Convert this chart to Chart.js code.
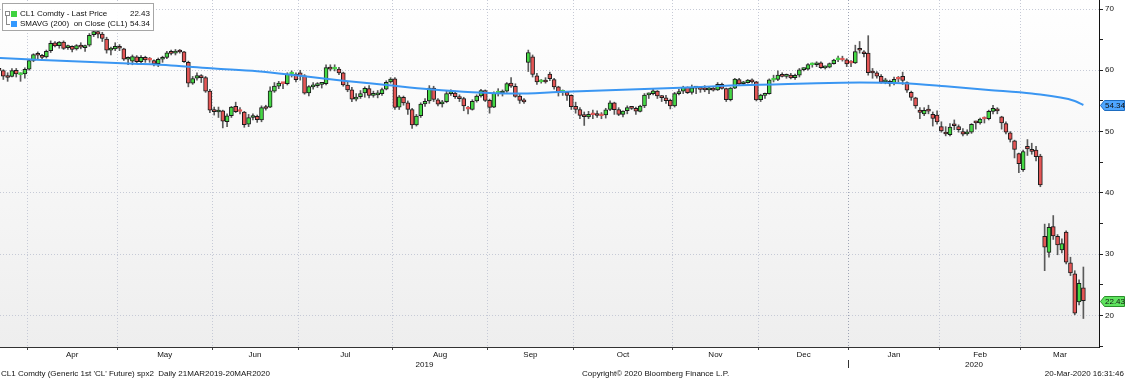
<!DOCTYPE html>
<html>
<head>
<meta charset="utf-8">
<script src="https://cdn.jsdelivr.net/npm/chart.js@4.4.1/dist/chart.umd.min.js"></script>
<style>
  html, body { margin: 0; padding: 0; background: #fff; }
  #wrap { position: relative; width: 1125px; height: 379px; overflow: hidden;
          font-family: "Liberation Sans", Arial, sans-serif; font-size: 8px; color: #111; }
  #wrap canvas { position: absolute; left: 0; top: 0; }
  .abs { position: absolute; white-space: nowrap; line-height: 10px; }
  .legend { position: absolute; left: 2px; top: 3px; width: 152px; height: 28px; box-sizing: border-box;
            border: 1px solid #a6a6a6; background: rgba(255,255,255,0.93); }
  .sw { position: absolute; width: 6px; height: 6px; }
</style>
</head>
<body>
<div id="wrap">
  <canvas id="chart" width="1125" height="379"></canvas>

  <div class="legend"></div>
  <div class="abs" style="left:5px;top:11px;width:3px;height:3px;border:1px solid #8a8a8a;"></div>
  <div class="abs" style="left:6px;top:16px;width:3px;height:8px;border-left:1px solid #8a8a8a;border-bottom:1px solid #8a8a8a;"></div>
  <div class="sw" style="left:11px;top:11px;background:#3fd23f;"></div>
  <div class="sw" style="left:11px;top:21px;background:#3399ff;"></div>
  <div class="abs" style="left:20px;top:9px;">CL1 Comdty - Last Price</div>
  <div class="abs" style="left:20px;top:19px;">SMAVG (200)&nbsp; on Close (CL1)</div>
  <div class="abs" id="lastVal" style="left:110px;top:9px;width:40px;text-align:right;"></div>
  <div class="abs" id="smaVal" style="left:110px;top:19px;width:40px;text-align:right;"></div>

  <div class="abs" style="left:1px;top:369px;">CL1 Comdty (Generic 1st 'CL' Future) spx2&nbsp; Daily 21MAR2019-20MAR2020</div>
  <div class="abs" style="left:582px;top:369px;">Copyright© 2020 Bloomberg Finance L.P.</div>
  <div class="abs" style="right:1px;top:369px;">20-Mar-2020 16:31:46</div>
</div>

<script>
// daily candles, 21 Mar 2019 .. 20 Mar 2020 (one entry per trading day)
const openP = [
  60.2, 59.95, 59.0, 59.0, 60.0, 59.3, 59.4,
  60.2, 61.6, 62.6, 62.4, 62.2, 63.2, 64.5, 64.0, 64.6, 63.7, 63.9, 63.5, 64.1, 63.7, 64.1, 65.8, 66.3, 65.9, 65.1, 63.3, 63.5,
  63.9, 63.5, 61.8, 61.5, 62.2, 61.4, 62.1, 61.7, 61.6, 61.1, 61.8, 62.1, 62.9, 62.8, 63.1, 63.0, 61.3, 57.9, 58.7, 59.1, 58.8, 56.6,
  53.4, 53.2, 53.4, 51.6, 52.6, 54.1, 53.3, 53.2, 51.2, 52.3, 52.5, 51.9, 53.9, 54.0, 56.6, 57.4, 57.9, 57.8, 59.4, 59.4,
  59.6, 59.1, 56.3, 57.3, 57.5, 57.7, 57.8, 60.4, 60.2, 60.2, 59.6, 57.6, 56.8, 55.3, 55.7, 56.3, 57.0, 55.9, 56.0, 56.2, 56.9, 58.1,
  58.6, 54.0, 55.6, 54.7, 53.6, 51.1, 52.6, 54.5, 55.0, 57.1, 55.2, 54.5, 54.9, 56.2, 56.3, 55.7, 55.4, 53.7, 53.6, 55.0, 55.8, 56.7,
  55.1, 54.0, 56.3, 56.3, 56.6, 57.9, 57.4, 55.8, 55.1, 61.3, 62.2, 59.1, 58.1, 58.2, 59.4, 58.5, 57.3, 56.4, 56.4, 55.9,
  54.1, 53.6, 52.6, 52.4, 52.8, 52.8, 52.6, 52.7, 53.6, 54.7, 53.6, 52.8, 53.4, 53.9, 53.8, 53.3, 54.2, 56.0, 56.2, 56.6, 55.8, 55.5, 55.1,
  54.2, 56.2, 56.6, 57.2, 56.4, 57.1, 57.2, 56.9, 56.8, 57.1, 56.8, 57.7, 57.0, 55.2, 57.1, 58.5, 57.8, 58.0, 58.4, 58.1,
  55.2, 55.9, 56.2, 58.4, 58.5, 59.2, 59.0, 59.2, 58.8, 59.2, 60.1, 60.2, 60.9, 60.9, 61.2, 60.4, 60.5, 61.1, 61.7, 61.7, 61.7,
  61.2, 61.2, 63.6, 62.9, 62.8, 59.8, 59.6, 59.0, 58.1, 58.2, 57.9, 58.6, 59.0, 58.0, 56.4, 55.5, 53.5, 52.9, 53.6, 52.8, 52.7,
  50.8, 49.8, 49.5, 51.1, 50.8, 50.0, 49.6, 49.9, 51.55, 51.4, 52.1, 52.1, 53.3, 53.7, 52.4, 51.3, 49.8, 48.5, 46.4,
  43.8, 47.6, 47.0, 47.0, 46.0, 32.9, 30.3, 34.5, 32.9, 30.7, 33.6, 28.6, 26.8, 22.2, 24.5
];
const highP = [
  60.4, 60.1, 59.6, 60.3, 60.3, 59.6, 60.4,
  61.7, 62.7, 63.0, 62.6, 63.3, 64.8, 64.7, 64.7, 64.8, 64.1, 64.0, 64.2, 64.5, 64.1, 66.0, 66.6, 66.5, 66.2, 65.4, 63.8, 64.5,
  64.2, 63.6, 62.2, 62.5, 62.4, 62.4, 62.3, 62.1, 61.7, 62.0, 62.3, 63.1, 63.3, 63.4, 63.4, 63.1, 61.5, 59.0, 59.6, 59.3, 59.0, 56.9,
  54.0, 54.0, 53.5, 52.9, 54.1, 54.8, 53.9, 53.3, 52.8, 52.9, 52.7, 54.2, 54.3, 57.3, 58.0, 58.2, 58.0, 59.6, 59.9, 59.6,
  60.0, 59.3, 57.5, 58.0, 58.0, 58.0, 60.9, 60.9, 60.9, 60.5, 59.7, 58.1, 57.2, 56.2, 56.7, 57.3, 57.5, 56.6, 56.7, 57.1, 58.3, 58.8,
  58.8, 55.9, 55.8, 55.0, 53.8, 52.8, 54.7, 55.4, 57.5, 57.4, 55.4, 55.1, 56.6, 56.8, 56.6, 56.0, 55.6, 54.1, 55.2, 56.0, 56.9, 56.8,
  55.3, 56.5, 57.0, 56.8, 58.0, 58.8, 57.8, 56.2, 55.4, 63.3, 62.5, 59.5, 58.5, 58.8, 59.7, 58.7, 57.4, 56.8, 56.5, 56.0,
  54.8, 53.9, 53.2, 53.3, 53.5, 53.4, 53.1, 53.8, 55.0, 54.8, 53.9, 53.4, 54.2, 54.1, 54.0, 54.3, 56.2, 56.3, 56.9, 56.7, 55.9, 55.9, 55.3,
  56.4, 56.9, 57.4, 57.3, 57.6, 57.4, 57.3, 57.5, 57.3, 57.2, 58.0, 57.9, 57.1, 57.2, 58.7, 58.7, 58.2, 58.5, 58.6, 58.2,
  56.1, 56.3, 58.6, 59.2, 59.9, 59.6, 59.4, 59.5, 59.4, 60.3, 60.4, 61.1, 61.2, 61.4, 61.4, 60.7, 61.2, 61.8, 62.3, 62.3, 61.9,
  61.6, 64.1, 64.7, 63.2, 65.65, 60.3, 59.8, 59.3, 58.7, 58.4, 58.9, 59.0, 59.7, 58.1, 56.6, 55.6, 53.9, 53.9, 54.3, 53.2, 53.4,
  51.6, 50.8, 51.3, 51.9, 51.1, 50.5, 50.3, 51.3, 51.7, 52.2, 52.4, 53.5, 54.3, 53.9, 52.5, 51.6, 50.0, 48.6, 46.5,
  47.0, 48.7, 48.1, 47.6, 46.3, 34.9, 35.0, 36.3, 33.2, 32.5, 33.8, 29.5, 27.3, 25.8, 27.9
];
const lowP = [
  59.2, 58.5, 58.2, 58.9, 58.9, 58.2, 58.7,
  60.0, 61.4, 61.8, 61.9, 62.0, 62.9, 63.8, 63.6, 63.4, 63.4, 63.0, 63.3, 63.5, 63.1, 63.9, 65.5, 65.3, 64.7, 62.8, 62.5, 63.2,
  63.2, 61.6, 60.9, 60.9, 61.2, 61.2, 61.3, 61.3, 60.7, 60.6, 61.3, 61.9, 62.5, 62.5, 62.8, 61.3, 57.3, 57.7, 58.4, 58.0, 56.4, 53.1,
  52.7, 52.3, 50.6, 50.8, 52.3, 53.1, 52.9, 50.7, 50.8, 51.9, 51.5, 51.6, 53.5, 53.9, 56.4, 57.0, 57.0, 57.6, 58.9, 58.1,
  58.4, 56.1, 55.8, 56.9, 57.2, 57.1, 57.6, 59.9, 59.9, 59.3, 57.4, 56.5, 54.9, 55.0, 55.4, 55.6, 55.5, 55.6, 55.5, 55.9, 56.8, 57.9,
  53.6, 53.6, 54.3, 52.8, 50.5, 50.9, 52.3, 54.1, 54.6, 54.9, 54.2, 54.0, 54.7, 55.9, 55.4, 54.9, 53.4, 52.9, 53.5, 54.8, 55.6, 54.9,
  53.0, 53.9, 55.8, 55.8, 56.4, 57.2, 55.6, 54.6, 54.6, 59.8, 58.9, 57.7, 57.9, 57.9, 58.3, 56.9, 55.8, 55.9, 55.1, 53.6,
  53.0, 52.1, 51.0, 52.1, 52.1, 52.3, 52.1, 52.2, 53.4, 52.8, 52.6, 52.4, 52.9, 53.6, 52.8, 53.2, 53.9, 55.4, 56.0, 55.4, 54.9, 54.6, 53.7,
  54.0, 56.0, 56.2, 56.2, 56.1, 56.2, 56.4, 56.5, 56.2, 56.6, 56.7, 56.9, 54.9, 55.0, 57.0, 57.6, 57.5, 57.9, 57.9, 55.0,
  54.9, 55.4, 56.1, 58.1, 58.3, 58.9, 58.7, 58.6, 58.5, 58.9, 59.9, 60.0, 60.5, 60.6, 60.3, 60.2, 60.4, 61.0, 61.4, 61.5, 60.6,
  60.6, 61.1, 62.8, 62.2, 59.2, 58.7, 58.7, 57.9, 57.8, 57.4, 57.6, 58.1, 57.7, 56.4, 55.1, 53.8, 52.1, 52.6, 52.9, 50.9, 51.2,
  49.9, 49.3, 49.3, 50.3, 49.9, 49.3, 49.4, 49.7, 50.4, 51.2, 51.4, 51.9, 52.9, 52.9, 50.4, 49.6, 48.3, 45.7, 43.3,
  43.5, 46.1, 46.3, 45.2, 41.0, 27.3, 29.5, 32.4, 29.9, 30.2, 28.4, 26.5, 20.1, 21.7, 19.5
];
const closeP = [
  59.98, 59.04, 58.82, 59.94, 59.41, 59.30, 60.14,
  61.59, 62.58, 62.46, 62.10, 63.08, 64.40, 63.98, 64.61, 63.58, 63.89, 63.40, 64.05, 63.76, 64.00, 65.70, 66.30, 65.89, 65.21, 63.30, 63.50, 63.91,
  63.60, 61.81, 61.94, 62.25, 61.40, 62.12, 61.70, 61.66, 61.04, 61.78, 62.02, 62.87, 62.76, 63.10, 62.99, 61.42, 57.91, 58.63, 59.14, 58.81, 56.59, 53.50,
  53.25, 53.48, 51.68, 52.59, 53.99, 53.26, 53.27, 51.14, 52.28, 52.51, 51.93, 53.90, 53.76, 56.65, 57.43, 57.90, 57.83, 59.38, 59.43, 58.47,
  59.09, 56.25, 57.34, 57.51, 57.66, 57.83, 60.43, 60.20, 60.21, 59.58, 57.62, 56.78, 55.30, 55.63, 56.22, 57.05, 55.88, 56.02, 56.20, 56.87, 58.05, 58.58,
  53.95, 55.66, 54.69, 53.63, 51.09, 52.54, 54.50, 54.93, 57.10, 55.23, 54.47, 54.87, 56.21, 56.34, 55.68, 55.35, 54.17, 53.64, 54.93, 55.78, 56.71, 55.10,
  53.94, 56.26, 56.30, 56.52, 57.85, 57.40, 55.75, 55.09, 54.85, 62.90, 59.34, 58.11, 58.13, 58.09, 58.64, 57.29, 56.49, 56.41, 55.91, 54.07,
  53.62, 52.64, 52.45, 52.81, 52.75, 52.63, 52.59, 53.55, 54.70, 53.59, 52.81, 53.36, 53.93, 53.78, 53.31, 54.16, 55.97, 56.23, 56.66, 55.81, 55.54, 55.06, 54.18,
  56.20, 56.54, 57.23, 56.35, 57.15, 57.24, 56.86, 56.80, 57.12, 56.77, 57.72, 57.05, 55.21, 57.11, 58.58, 57.77, 58.01, 58.41, 58.11, 55.17,
  55.96, 56.10, 58.43, 58.43, 59.20, 59.02, 59.24, 58.76, 59.18, 60.07, 60.21, 60.94, 60.93, 61.22, 60.44, 60.52, 61.11, 61.68, 61.72, 61.68, 61.06,
  61.18, 63.05, 63.27, 62.70, 59.61, 59.56, 59.04, 58.08, 58.23, 57.81, 58.52, 58.54, 58.34, 56.74, 55.59, 54.19, 53.14, 53.48, 53.33, 52.14, 51.56,
  50.11, 49.61, 50.75, 50.95, 50.32, 49.57, 49.94, 51.17, 51.42, 52.05, 52.05, 53.29, 53.78, 53.38, 51.43, 49.90, 48.73, 47.09, 44.76,
  46.75, 47.18, 46.78, 45.90, 41.28, 31.13, 34.36, 32.98, 31.50, 31.73, 28.70, 26.95, 20.37, 25.22, 22.43
];

// 200-day moving average, read every 10th trading day
const smaDay   = [0, 10, 20, 30, 40, 50, 60, 70, 80, 90, 100, 110, 120, 130, 140, 150, 160, 170, 180, 190, 200, 210, 220, 230, 240, 250, 252];
const smaValue = [62.0, 61.7, 61.4, 61.1, 60.8, 60.3, 59.85, 59.1, 58.3, 57.6, 56.9, 56.4, 56.2, 56.45, 56.7, 56.95, 57.2, 57.5, 57.7, 57.9, 58.0, 57.9, 57.4, 56.8, 56.2, 55.0, 54.34];

// axis labels
const monthNames = ['Apr', 'May', 'Jun', 'Jul', 'Aug', 'Sep', 'Oct', 'Nov', 'Dec', 'Jan', 'Feb', 'Mar'];
const monthStart = [7, 28, 50, 70, 92, 114, 134, 157, 177, 198, 219, 238];
const yearNames = ['2019', '2020'];
const yearStart = 198;
const priceTicks = [15, 20, 25, 30, 35, 40, 45, 50, 55, 60, 65, 70];
const priceLabels = [20, 30, 40, 50, 60, 70];

const X_MIN = 0.225, X_MAX = 255.63;
const Y_MIN = 14.85, Y_MAX = 71.47;
const UP = '#45d845', DOWN = '#e45656';
const FONT = { family: '"Liberation Sans", Arial, sans-serif', size: 8 };
const CLEAR = 'rgba(0,0,0,0)';

document.getElementById('lastVal').textContent = closeP[closeP.length - 1].toFixed(2);
document.getElementById('smaVal').textContent = smaValue[smaValue.length - 1].toFixed(2);

const days = closeP.map((_, i) => i);
const isUp = i => closeP[i] >= openP[i];
const isFlat = i => Math.abs(closeP[i] - openP[i]) < 0.1;

// month boundaries carry a tick, month centres carry the label
function monthTicks() {
  const t = [];
  const bounds = monthStart.map(s => s - 0.5);
  bounds.forEach((b, i) => {
    t.push({ value: b, bound: true, jan: monthNames[i] === 'Jan' });
    const next = i + 1 < bounds.length ? bounds[i + 1] : X_MAX;
    t.push({ value: (b + next) / 2, lbl: monthNames[i] });
  });
  return t.sort((a, b) => a.value - b.value);
}
function yearTicks() {
  const b = yearStart - 0.5;
  return [
    { value: (X_MIN + b) / 2, lbl: yearNames[0] },
    { value: b, bound: true },
    { value: (b + X_MAX) / 2, lbl: yearNames[1] }
  ];
}

const background = {
  id: 'background',
  beforeDraw(chart) {
    const { ctx, chartArea: a } = chart;
    ctx.save();
    ctx.fillStyle = '#ffffff';
    ctx.fillRect(0, 0, chart.width, chart.height);
    const g = ctx.createLinearGradient(0, a.top, 0, a.bottom);
    g.addColorStop(0, '#ffffff');
    g.addColorStop(1, '#eeeeee');
    ctx.fillStyle = g;
    ctx.fillRect(a.left, a.top, a.right - a.left, a.bottom - a.top);
    ctx.restore();
  }
};

function drawTag(chart, value, fill, stroke) {
  const { ctx } = chart;
  const ys = chart.scales.y;
  const y = Math.round(ys.getPixelForValue(value)) + 0.5;
  const x0 = ys.left + 1.5, x1 = chart.width - 0.5;
  ctx.save();
  ctx.beginPath();
  ctx.moveTo(x0, y);
  ctx.lineTo(x0 + 4, y - 5);
  ctx.lineTo(x1, y - 5);
  ctx.lineTo(x1, y + 5);
  ctx.lineTo(x0 + 4, y + 5);
  ctx.closePath();
  ctx.fillStyle = fill;
  ctx.fill();
  ctx.strokeStyle = stroke;
  ctx.lineWidth = 1;
  ctx.stroke();
  ctx.fillStyle = '#111';
  ctx.font = '8px "Liberation Sans", Arial, sans-serif';
  ctx.textBaseline = 'middle';
  ctx.fillText(value.toFixed(2), x0 + 4.5, y + 0.5);
  ctx.restore();
}

const valueTags = {
  id: 'valueTags',
  afterDraw(chart) {
    drawTag(chart, smaValue[smaValue.length - 1], '#4ea6ff', '#1d6cc0');
    drawTag(chart, closeP[closeP.length - 1], '#5fe35f', '#2a8f2a');
  }
};

new Chart(document.getElementById('chart'), {
  type: 'bar',
  data: {
    datasets: [
      {
        type: 'line',
        label: 'SMAVG (200) on Close (CL1)',
        data: smaDay.map((d, i) => ({ x: d, y: smaValue[i] })),
        borderColor: '#3a96f2',
        borderWidth: 2,
        pointRadius: 0,
        cubicInterpolationMode: 'monotone',
        order: 0
      },
      {
        label: 'body',
        data: days.map(i => ({ x: i, y: [openP[i], closeP[i]] })),
        grouped: false,
        barThickness: 4,
        minBarLength: 2,
        borderSkipped: false,
        borderWidth: 1,
        backgroundColor: c => isUp(c.dataIndex) ? UP : DOWN,
        borderColor: c => isFlat(c.dataIndex) ? (isUp(c.dataIndex) ? UP : DOWN) : '#1b1b1b',
        order: 1
      },
      {
        label: 'wick',
        data: days.map(i => ({ x: i, y: [lowP[i], highP[i]] })),
        grouped: false,
        barThickness: 1,
        borderWidth: 0,
        backgroundColor: '#5a5a5a',
        order: 2
      }
    ]
  },
  options: {
    responsive: false,
    devicePixelRatio: 1,
    animation: false,
    layout: { autoPadding: false, padding: { top: 0, left: 0, right: 0, bottom: 8 } },
    plugins: { legend: { display: false }, tooltip: { enabled: false } },
    scales: {
      x: {
        type: 'linear', min: X_MIN, max: X_MAX, offset: false, weight: 0,
        afterBuildTicks: a => { a.ticks = monthTicks(); },
        afterFit: a => { a.height = 13; a.paddingLeft = 0; a.paddingRight = 0; },
        ticks: {
          autoSkip: false, maxRotation: 0, minRotation: 0, padding: 0,
          font: FONT, color: '#111',
          callback: (v, i, t) => t[i].lbl || ''
        },
        grid: {
          offset: false, drawOnChartArea: true, tickLength: 3,
          color: c => c.tick && c.tick.bound ? (c.tick.jan ? '#9ea4b4' : '#c6cad6') : CLEAR,
          tickColor: c => c.tick && c.tick.bound ? '#444' : CLEAR
        },
        border: { display: true, color: '#333', width: 1, dash: [1, 2] }
      },
      x2: {
        type: 'linear', position: 'bottom', min: X_MIN, max: X_MAX, offset: false, weight: 1,
        afterBuildTicks: a => { a.ticks = yearTicks(); },
        afterFit: a => { a.height = 11; a.paddingLeft = 0; a.paddingRight = 0; },
        ticks: {
          autoSkip: false, maxRotation: 0, minRotation: 0, padding: -8,
          font: FONT, color: '#111',
          callback: (v, i, t) => t[i].lbl || ''
        },
        grid: {
          offset: false, drawOnChartArea: false, tickLength: 8,
          tickColor: c => c.tick && c.tick.bound ? '#333' : CLEAR
        },
        border: { display: false }
      },
      y: {
        position: 'right', min: Y_MIN, max: Y_MAX,
        afterBuildTicks: a => { a.ticks = priceTicks.map(v => ({ value: v })); },
        afterFit: a => { a.width = 26; a.paddingTop = 0; a.paddingBottom = 0; },
        ticks: {
          autoSkip: false, padding: 2, font: FONT, color: '#111',
          callback: v => priceLabels.includes(v) ? String(v) : ''
        },
        grid: {
          drawOnChartArea: true, tickLength: 4, tickColor: '#222',
          color: c => c.tick && priceLabels.includes(c.tick.value) ? '#c6cad6' : CLEAR
        },
        border: { display: true, color: '#111', width: 1, dash: [1, 2] }
      }
    }
  },
  plugins: [background, valueTags]
});
</script>
</body>
</html>
